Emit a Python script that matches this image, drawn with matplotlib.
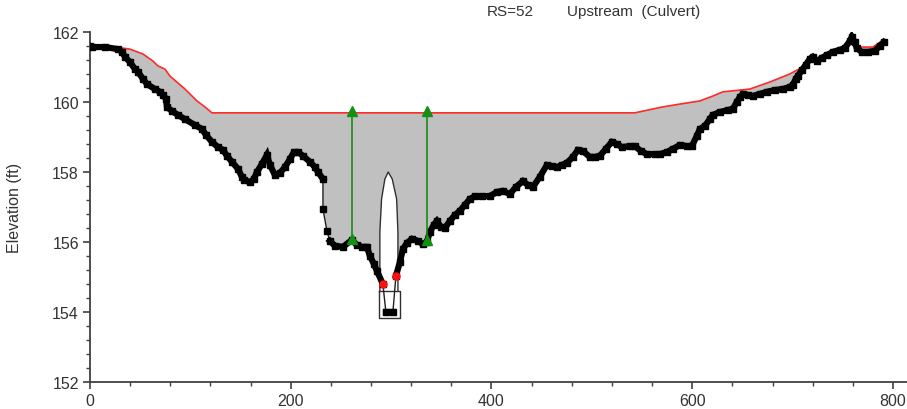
import numpy as np
import matplotlib
matplotlib.use("Agg")
import matplotlib.pyplot as plt
from matplotlib.ticker import MultipleLocator

plt.rcParams['font.family'] = ['Liberation Sans', 'DejaVu Sans']

# ground profile (station ft, elevation ft)
ground_x = [0, 2, 15, 27.9, 31.9, 34.9, 39.8, 44.8, 47.8, 52.8, 56.8, 64.7, 69.7, 72.7,
            75.7, 76.7, 81.7, 87.6, 94.6, 104.6, 111.6, 115.5, 121.5, 127.5, 132.5, 136.5,
            141.4, 147.4, 151.4, 153.4, 159.4, 163.3, 166.3, 171.3, 176.3, 179.3, 184.3,
            189.2, 194.2, 199.2, 203.2, 207.2, 212.2, 219.1, 224.1, 227.1, 232.1, 232.1,
            236.1, 239.0, 244.0, 252.0, 261.0, 265.9, 270.9, 275.9, 278.9, 282.9, 285.9,
            291.8, 294.8, 301.8, 304.8, 308.8, 311.8, 315.7, 320.7, 326.7, 331.7, 335.7,
            338.6, 342.6, 345.6, 349.6, 353.6, 358.6, 363.5, 368.5, 373.5, 378.5, 383.5,
            390.4, 398.4, 405.4, 411.4, 418.3, 424.3, 431.3, 436.3, 441.2, 448.2, 455.2,
            460.2, 465.1, 470.1, 475.1, 481.1, 486.1, 491.0, 498.0, 503.0, 508.0, 513.9,
            519.9, 524.9, 529.9, 537.8, 542.8, 548.8, 554.8, 562.7, 567.7, 574.7, 580.7,
            587.6, 594.6, 599.6, 604.6, 607.6, 612.5, 617.5, 620.5, 627.5, 635.5, 640.4,
            644.4, 647.4, 650.4, 655.4, 660.4, 667.3, 674.3, 682.3, 690.2, 697.2, 700.2,
            703.2, 705.2, 709.2, 713.1, 717.1, 720.1, 724.1, 729.1, 734.1, 740.0, 747.0,
            752.0, 757.0, 759.0, 761.9, 763.9, 768.9, 774.9, 781.9, 786.9, 790.8]
ground_y = [161.60, 161.57, 161.57, 161.51, 161.43, 161.29, 161.14, 160.94, 160.86, 160.66,
            160.51, 160.37, 160.29, 160.20, 160.09, 159.86, 159.74, 159.63, 159.51, 159.34,
            159.23, 159.06, 158.86, 158.71, 158.63, 158.46, 158.29, 158.09, 157.86, 157.77,
            157.71, 157.80, 158.00, 158.23, 158.49, 158.20, 157.91, 157.97, 158.14, 158.37,
            158.57, 158.57, 158.46, 158.29, 158.14, 158.00, 157.80, 156.94, 156.31, 156.03,
            155.89, 155.86, 156.06, 155.91, 155.86, 155.86, 155.60, 155.37, 155.17, 154.80,
            154.00, 154.00, 155.03, 155.43, 155.80, 155.97, 156.09, 156.03, 155.94, 156.00,
            156.29, 156.49, 156.60, 156.43, 156.40, 156.60, 156.77, 156.89, 157.06, 157.23,
            157.31, 157.31, 157.31, 157.43, 157.46, 157.37, 157.57, 157.74, 157.63, 157.57,
            157.86, 158.20, 158.17, 158.14, 158.20, 158.26, 158.43, 158.63, 158.60, 158.43,
            158.43, 158.46, 158.66, 158.86, 158.80, 158.71, 158.74, 158.74, 158.60, 158.51,
            158.51, 158.51, 158.57, 158.66, 158.77, 158.74, 158.74, 159.03, 159.23, 159.31,
            159.51, 159.63, 159.71, 159.77, 159.80, 160.00, 160.14, 160.23, 160.20, 160.17,
            160.23, 160.29, 160.34, 160.37, 160.43, 160.49, 160.66, 160.74, 160.91, 161.06,
            161.23, 161.29, 161.17, 161.26, 161.34, 161.43, 161.49, 161.54, 161.74, 161.86,
            161.71, 161.54, 161.43, 161.43, 161.46, 161.60, 161.71]

# water surface line
ws_x = [0, 32.9, 39.8, 52.8, 62.7, 67.7, 74.7, 79.7, 94.6, 106.6, 114.5, 121.5, 542.8,
        570.7, 587.6, 607.6, 620.5, 630.5, 657.4, 677.3, 697.2, 710.2, 715.1, 720.1,
        724.1, 734.1, 750.0, 759.0, 763.9, 779.9, 788.8]
ws_y = [161.57, 161.54, 161.51, 161.37, 161.17, 161.03, 160.94, 160.74, 160.37, 160.03,
        159.86, 159.69, 159.69, 159.86, 159.94, 160.03, 160.17, 160.29, 160.37, 160.57,
        160.80, 161.00, 161.23, 161.31, 161.23, 161.37, 161.57, 161.86, 161.57, 161.57,
        161.74]

# culvert opening
arch_x = [288.8, 288.8, 290.5, 293.8, 297.1, 301.1, 305.5, 306.8, 306.8]
arch_y = [154.60, 156.29, 157.23, 157.80, 158.00, 157.80, 157.23, 156.29, 154.60]
box_x = [287.8, 308.8]
box_y = [153.83, 154.60]

# ineffective flow limits (green) and bank stations (red)
ineff_x = [261.0, 335.7]
ineff_bot = [156.09, 156.06]
ineff_top = [159.74, 159.74]
bank_x = [291.8, 304.8]
bank_y = [154.80, 155.03]

fig = plt.figure(figsize=(9.07, 4.10), dpi=100)
ax = fig.add_axes([90 / 907, 27 / 410, 818 / 907, 350 / 410])

# water fill between ws and ground
ax.fill(np.concatenate([ws_x, ground_x[::-1]]), np.concatenate([ws_y, ground_y[::-1]]),
        color='#c0c0c0', lw=0, zorder=1)
ax.plot(ws_x, ws_y, color='#ff2a2a', lw=1.2, zorder=3)

# culvert
cx = [box_x[0], box_x[0]] + arch_x + [box_x[1], box_x[1]]
cy = [box_y[0], box_y[1]] + arch_y + [box_y[1], box_y[0]]
ax.fill(cx, cy, color='white', lw=0, zorder=2)
ax.plot(arch_x, arch_y, color='#303030', lw=1.0, zorder=4)
ax.plot([box_x[0], box_x[0], box_x[1], box_x[1], box_x[0]],
        [box_y[1], box_y[0], box_y[0], box_y[1], box_y[1]], color='#303030', lw=1.0, zorder=4)

# ground: thin line everywhere, thick except on steep drop and inside culvert
gx = np.array(ground_x)
gy = np.array(ground_y)
ax.plot(gx, gy, color='#202020', lw=1.0, zorder=5)
ax.plot(gx, gy, ls='none', color='black', marker='s', ms=5, zorder=5)
drop = ground_x.index(232.1)
b0 = ground_x.index(bank_x[0])
b1 = ground_x.index(bank_x[1])
for a, b in [(0, drop + 1), (drop + 3, b0 + 1), (b0 + 1, b1), (b1, len(gx))]:
    ax.plot(gx[a:b], gy[a:b], color='black', lw=4.5, solid_joinstyle='miter', zorder=5)

for x, yb, yt in zip(ineff_x, ineff_bot, ineff_top):
    ax.plot([x, x], [yb, yt], color='#1a8c1a', lw=1.2, zorder=6)
    ax.plot([x, x], [yb, yt], ls='none', marker='^', ms=6.5, color='#119011', zorder=7)

ax.plot(bank_x, bank_y, ls='none', marker='o', ms=5, color='#ff1010', zorder=7)

ax.set_xlim(0, 815)
ax.set_ylim(152, 162)
ax.xaxis.set_major_locator(MultipleLocator(200))
ax.xaxis.set_minor_locator(MultipleLocator(40))
ax.yaxis.set_major_locator(MultipleLocator(2))
ax.yaxis.set_minor_locator(MultipleLocator(0.4))
for s in ['top', 'right']:
    ax.spines[s].set_visible(False)
for s in ['left', 'bottom']:
    ax.spines[s].set_color('#404040')
    ax.spines[s].set_linewidth(1.3)
ax.tick_params(which='major', length=5, width=1.2, color='#404040',
               labelsize=11.5, labelcolor='#333333', pad=3)
ax.tick_params(which='minor', length=3, width=1.0, color='#404040')

fig.text(487 / 907, 1 - 12 / 410, 'RS=52', fontsize=11, color='#333333', ha='left', va='center')
fig.text(567 / 907, 1 - 12 / 410, 'Upstream  (Culvert)', fontsize=11, color='#333333',
         ha='left', va='center')
fig.text(15 / 907, 1 - 208 / 410, 'Elevation (ft)', fontsize=11.5, color='#333333',
         rotation=90, ha='center', va='center')

fig.savefig('out.png', dpi=100)
